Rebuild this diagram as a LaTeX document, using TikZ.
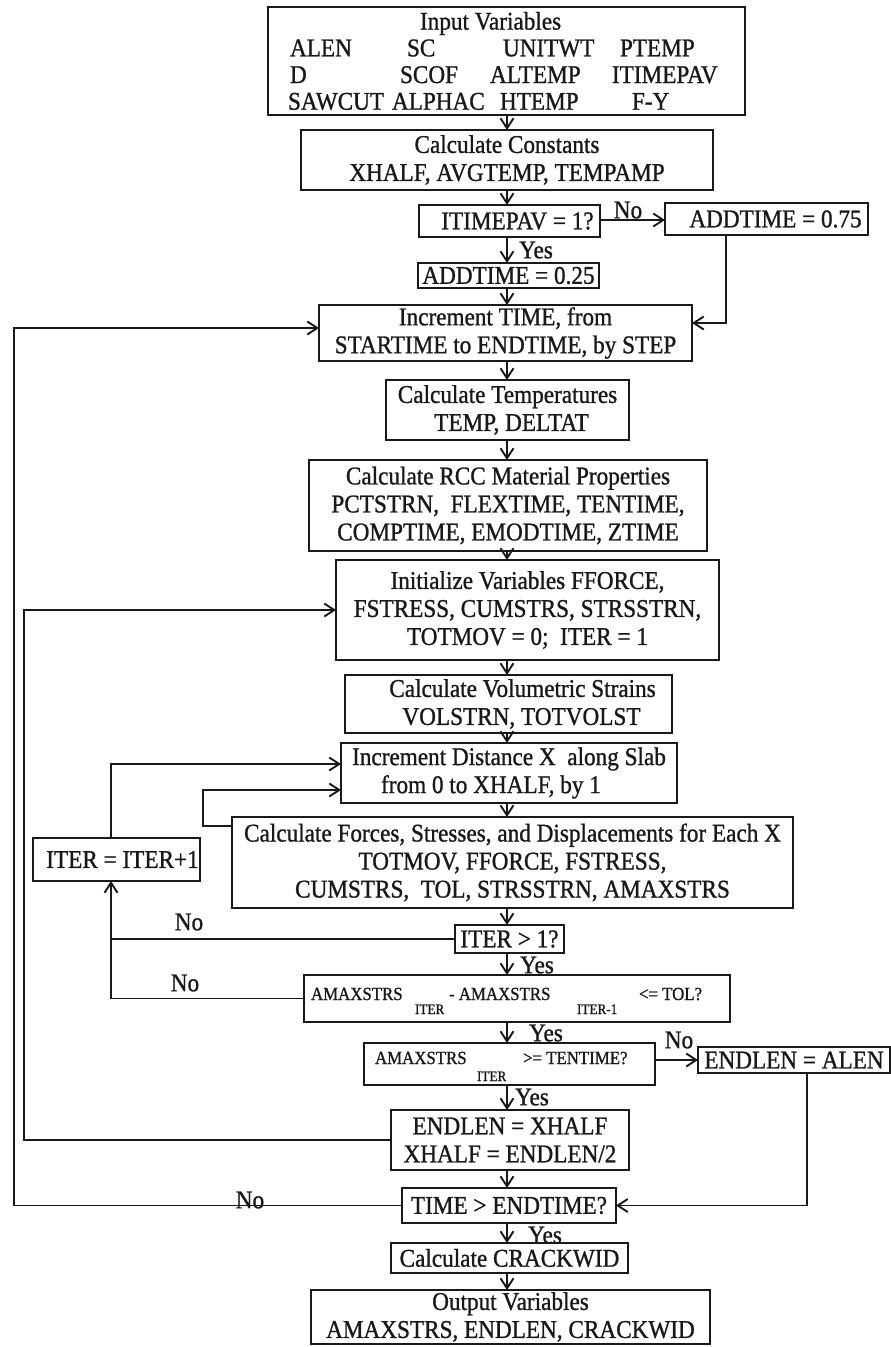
\documentclass[tikz,border=0pt]{standalone}
\usepackage{fontspec}
\setmainfont{Liberation Serif}[FakeStretch=0.91,FakeBold=1.0]
\usetikzlibrary{arrows.meta}
\definecolor{ink}{gray}{0.1}
\newcommand{\wat}[2]{\rlap{\hspace{#1pt}#2}}
\newcommand{\irow}[1]{\makebox[433pt][l]{#1}}
\newcommand{\mkbox}[7][]{\node[box,minimum width={(#5-#3)*1pt},minimum height={(#6-#4)*1pt},#1] (#2) at ({(#3+#5)/2},{(#4+#6)/2}) {#7};}
\newcommand{\subtx}[1]{{\fontsize{14.5}{14.5}\selectfont #1}}
\begin{document}
\begin{tikzpicture}[x=1pt,y=-1pt,color=ink,line width=1.6pt,
 every node/.style={inner sep=0pt,outer sep=0pt,font=\fontsize{25.5}{28}\selectfont},
 box/.style={draw,rectangle,align=center},
 arr/.style={-{Straight Barb[length=10pt,width=13pt,line width=1.9pt]}},
 small/.style={font=\fontsize{18.5}{20}\selectfont}]
\fill[white] (0,0) rectangle (891,1347);
\useasboundingbox (0,0) rectangle (891,1347);

% boxes
\mkbox[font=\fontsize{25.5}{26.7}\selectfont]{inp}{268}{7}{745}{115}{\irow{\wat{130}{Input Variables}}\\
 \irow{\wat{0}{ALEN}\wat{117}{SC}\wat{213}{UNITWT}\wat{330}{PTEMP}}\\
 \irow{\wat{0}{D}\wat{110}{SCOF}\wat{200}{ALTEMP}\wat{322}{ITIMEPAV}}\\
 \irow{\wat{-2}{SAWCUT}\wat{102}{ALPHAC}\wat{210}{HTEMP}\wat{342}{F-Y}}}
\mkbox{cst}{301}{130}{713}{190}{Calculate Constants\\XHALF, AVGTEMP, TEMPAMP}
\mkbox{q1}{419}{205}{600}{237}{\hspace*{16pt}ITIMEPAV = 1?}
\mkbox{a75}{665}{203}{868}{235}{\hspace*{18pt}ADDTIME = 0.75}
\mkbox{a25}{418}{263}{599}{288}{ADDTIME = 0.25}
\mkbox{inct}{319}{305}{692}{361}{Increment TIME, from\\STARTIME to ENDTIME, by STEP}
\mkbox{ctmp}{386}{380}{629}{440}{Calculate Temperatures\\\hspace*{8pt}TEMP, DELTAT}
\mkbox{rcc}{309}{460}{707}{551}{Calculate RCC Material Properties\\PCTSTRN,\ \ FLEXTIME, TENTIME,\\COMPTIME, EMODTIME, ZTIME}
\mkbox{init}{336}{560}{719}{660}{Initialize Variables FFORCE,\\FSTRESS, CUMSTRS, STRSSTRN,\\TOTMOV = 0;\ \ ITER = 1}
\mkbox{vol}{345}{675}{672}{733}{\hspace*{28pt}Calculate Volumetric Strains\\\hspace*{26pt}VOLSTRN, TOTVOLST}
\mkbox{incx}{341}{743}{677}{803}{Increment Distance X\ \ along Slab\\\hspace*{-36pt}from 0 to XHALF, by 1}
\mkbox{frc}{232}{817}{793}{908}{Calculate Forces, Stresses, and Displacements for Each X\\TOTMOV, FFORCE, FSTRESS,\\CUMSTRS,\ \ TOL, STRSSTRN, AMAXSTRS}
\mkbox{itp}{33}{838}{200}{881}{\hspace*{12pt}ITER = ITER+1}
\mkbox{q2}{455}{925}{564}{953}{ITER > 1?}
\mkbox{q3}{304}{975}{730}{1022}{}
\node[small,anchor=base west] (q3t) at (311,1000) {\makebox[104pt][l]{AMAXSTRS}\raisebox{-14pt}{\makebox[34pt][l]{\subtx{ITER}}}\makebox[128pt][l]{- AMAXSTRS}\raisebox{-14pt}{\makebox[62pt][l]{\subtx{ITER-1}}}<= TOL?};
\mkbox{q4}{364}{1043}{655}{1085}{}
\node[small,anchor=base west] (q4t) at (375,1064) {\makebox[102pt][l]{AMAXSTRS}\raisebox{-17pt}{\makebox[46pt][l]{\subtx{ITER}}}>= TENTIME?};
\mkbox{eal}{698}{1047}{890}{1073}{ENDLEN = ALEN}
\mkbox{exh}{391}{1110}{629}{1170}{ENDLEN = XHALF\\XHALF = ENDLEN/2}
\mkbox{q5}{402}{1188}{616}{1223}{TIME > ENDTIME?}
\mkbox{crk}{391}{1243}{628}{1273}{Calculate CRACKWID}
\mkbox{out}{311}{1290}{710}{1344}{Output Variables\\AMAXSTRS, ENDLEN, CRACKWID}

% helper coordinates
\coordinate (cx) at (507,0);
\coordinate (R1) at (726,323);
\coordinate (R2) at (807,0);
\coordinate (L1) at (14,328);
\coordinate (L2) at (24,610);
\coordinate (L3) at (111,764);
\coordinate (L4) at (203,790);
\coordinate (F1) at (232,826);

% straight flow
\draw[arr] (inp.south -| cx) -- (cst.north -| cx);
\draw[arr] (cst.south -| cx) -- (q1.north -| cx);
\draw[arr] (q1.south -| cx) -- (a25.north -| cx);
\draw[arr] (a25.south -| cx) -- (inct.north -| cx);
\draw[arr] (inct.south -| cx) -- (ctmp.north -| cx);
\draw[arr] (ctmp.south -| cx) -- (rcc.north -| cx);
\draw[arr] (rcc.south -| cx) -- (init.north -| cx);
\draw[arr] (init.south -| cx) -- (vol.north -| cx);
\draw[arr] (vol.south -| cx) -- (incx.north -| cx);
\draw[arr] (incx.south -| cx) -- (frc.north -| cx);
\draw[arr] (frc.south -| cx) -- (q2.north -| cx);
\draw[arr] (q2.south -| cx) -- (q3.north -| cx);
\draw[arr] (q3.south -| cx) -- (q4.north -| cx);
\draw[arr] (q4.south -| cx) -- (exh.north -| cx);
\draw[arr] (exh.south -| cx) -- (q5.north -| cx);
\draw[arr] (q5.south -| cx) -- (crk.north -| cx);
\draw[arr] (crk.south -| cx) -- (out.north -| cx);

% branches
\draw[arr] (q1.east |- 0,220) -- (a75.west |- 0,220);
\draw[arr] (a75.south -| R1) |- (inct.east |- R1);
\draw[arr] (q4.east |- eal.west) -- (eal.west);
\draw[arr] (eal.south -| R2) |- (q5.east);
\draw[arr] (q5.west) -- (q5.west -| L1) |- (inct.west |- L1);
\draw[arr] (exh.west) -- (exh.west -| L2) |- (init.west |- L2);
\draw[arr] (itp.north -| L3) |- (incx.west |- L3);
\draw[arr] (F1) -| (L4) -- (incx.west |- L4);
\draw (q2.west) -- (q2.west -| L3);
\draw[arr] (q3.west) -- (q3.west -| L3) -- (itp.south -| L3);

% labels
\node (n1) at (628,210) {No};
\node (y1) at (536,250) {Yes};
\node (n2) at (189,922) {No};
\node (n3) at (185,983) {No};
\node (y2) at (537,965) {Yes};
\node (y3) at (546,1033) {Yes};
\node (n4) at (679,1040) {No};
\node (y4) at (532,1097) {Yes};
\node (n5) at (250,1200) {No};
\node (y5) at (545,1235) {Yes};
\end{tikzpicture}
\end{document}
